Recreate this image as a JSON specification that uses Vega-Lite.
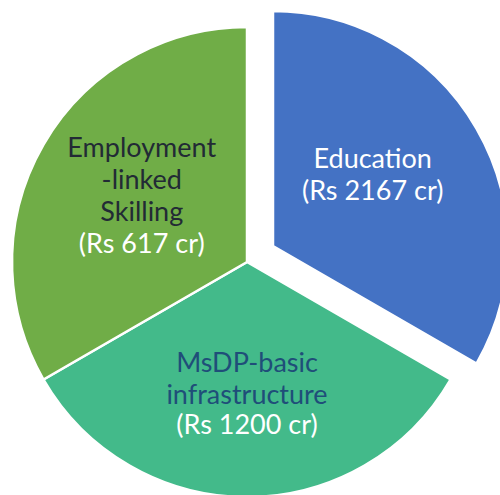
{
  "$schema": "https://vega.github.io/schema/vega-lite/v6.json",
  "width": 494,
  "height": 466,
  "autosize": "none",
  "padding": {"left": 0, "right": 6, "top": 29, "bottom": 0},
  "background": "white",
  "view": {"stroke": null},
  "data": {
    "values": [
      {"seq": 1, "area": "Education", "name": "Education", "amount": "(Rs 2167 cr)", "share": 1},
      {"seq": 2, "area": "MsDP-basic infrastructure", "name": "MsDP-basic\ninfrastructure", "amount": "(Rs 1200 cr)", "share": 1},
      {"seq": 3, "area": "Employment-linked Skilling", "name": "Employment\n-linked\nSkilling", "amount": "(Rs 617 cr)", "share": 1}
    ]
  },
  "encoding": {
    "theta": {"field": "share", "type": "quantitative", "stack": true},
    "order": {"field": "seq", "type": "quantitative"}
  },
  "layer": [
    {
      "mark": {"type": "arc", "outerRadius": 235, "stroke": "white", "strokeWidth": 2.5},
      "encoding": {
        "color": {
          "field": "area", "type": "nominal",
          "scale": {"domain": ["Education", "MsDP-basic infrastructure", "Employment-linked Skilling"], "range": ["#4472C4", "#43BA8A", "#70AD47"]},
          "legend": null
        },
        "opacity": {"condition": {"test": "datum.area === 'Education'", "value": 0}, "value": 1}
      }
    },
    {
      "mark": {"type": "arc", "outerRadius": 235, "stroke": "white", "strokeWidth": 2.5, "xOffset": 26, "yOffset": -16},
      "encoding": {
        "color": {
          "field": "area", "type": "nominal",
          "scale": {"domain": ["Education", "MsDP-basic infrastructure", "Employment-linked Skilling"], "range": ["#4472C4", "#43BA8A", "#70AD47"]},
          "legend": null
        },
        "opacity": {"condition": {"test": "datum.area === 'Education'", "value": 1}, "value": 0}
      }
    },
    {
      "mark": {"type": "text", "radius": 122, "xOffset": 26, "yOffset": -16, "dx": -6, "dy": -9, "font": "Lato", "fontSize": 27, "lineHeight": 32, "lineBreak": "\n", "align": "center", "baseline": "line-bottom", "fill": "#FFFFFF"},
      "encoding": {
        "text": {"field": "name", "type": "nominal"},
        "opacity": {"condition": {"test": "datum.area === 'Education'", "value": 1}, "value": 0}
      }
    },
    {
      "mark": {"type": "text", "radius": 122, "xOffset": 26, "yOffset": -16, "dx": -6, "dy": -9, "font": "Lato", "fontSize": 27, "lineHeight": 32, "align": "center", "baseline": "line-top", "fill": "#FFFFFF"},
      "encoding": {
        "text": {"field": "amount", "type": "nominal"},
        "opacity": {"condition": {"test": "datum.area === 'Education'", "value": 1}, "value": 0}
      }
    },
    {
      "mark": {"type": "text", "radius": 150, "dy": -32, "font": "Lato", "fontSize": 27, "lineHeight": 32, "lineBreak": "\n", "align": "center", "baseline": "line-bottom", "fill": "#1F4E79"},
      "encoding": {
        "text": {"field": "name", "type": "nominal"},
        "opacity": {"condition": {"test": "datum.area === 'MsDP-basic infrastructure'", "value": 1}, "value": 0}
      }
    },
    {
      "mark": {"type": "text", "radius": 150, "dy": -2, "font": "Lato", "fontSize": 27, "lineHeight": 32, "align": "center", "baseline": "line-top", "fill": "#FFFFFF"},
      "encoding": {
        "text": {"field": "amount", "type": "nominal"},
        "opacity": {"condition": {"test": "datum.area === 'MsDP-basic infrastructure'", "value": 1}, "value": 0}
      }
    },
    {
      "mark": {"type": "text", "radius": 110, "dx": -10, "dy": -42, "font": "Lato", "fontSize": 27, "lineHeight": 32, "lineBreak": "\n", "align": "center", "baseline": "line-bottom", "fill": "#222A35"},
      "encoding": {
        "text": {"field": "name", "type": "nominal"},
        "opacity": {"condition": {"test": "datum.area === 'Employment-linked Skilling'", "value": 1}, "value": 0}
      }
    },
    {
      "mark": {"type": "text", "radius": 110, "dx": -10, "dy": 22, "font": "Lato", "fontSize": 27, "lineHeight": 32, "align": "center", "baseline": "line-top", "fill": "#FFFFFF"},
      "encoding": {
        "text": {"field": "amount", "type": "nominal"},
        "opacity": {"condition": {"test": "datum.area === 'Employment-linked Skilling'", "value": 1}, "value": 0}
      }
    }
  ]
}
